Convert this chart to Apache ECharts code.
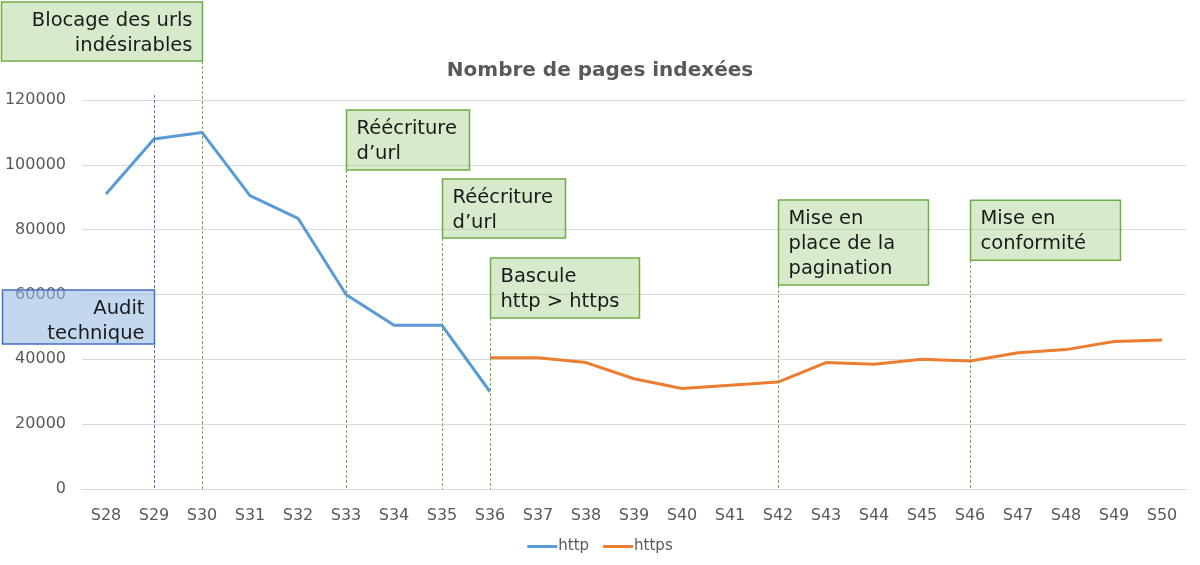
<!DOCTYPE html>
<html><head><meta charset="utf-8">
<script src="https://cdn.jsdelivr.net/npm/echarts@6/dist/echarts.min.js"></script>
<style>html,body{margin:0;padding:0;background:#fff}#c{width:1200px;height:565px}</style>
</head><body><div id="c"></div>
<script>
const weeks = ['S28','S29','S30','S31','S32','S33','S34','S35','S36','S37','S38','S39','S40','S41','S42','S43','S44','S45','S46','S47','S48','S49','S50'];
const httpValues = [91000,108000,110000,90500,83500,60000,50500,50500,30000,null,null,null,null,null,null,null,null,null,null,null,null,null,null];
const httpsValues = [null,null,null,null,null,null,null,null,40500,40500,39000,34000,31000,32000,33000,39000,38500,40000,39500,42000,43000,45500,46000];

const eventWeeks = ['S29','S30','S33','S35','S36','S42','S46'];
const eventTops = [121500,132000,98400,77400,52750,62900,70600];
const eventLabels = ['Audit\ntechnique','Blocage des urls\nindésirables','Réécriture\nd\u2019url','Réécriture\nd\u2019url','Bascule\nhttp > https','Mise en\nplace de la\npagination','Mise en\nconformité'];

// layout (pixel sizes) for annotation boxes
const boxLayout = [
  {side:'left', w:152, h:54, y:290, blue:true},
  {side:'left', w:201, h:59},
  {side:'right', w:123, h:60},
  {side:'right', w:123, h:59},
  {side:'right', w:149, h:60},
  {side:'right', w:150, h:85},
  {side:'right', w:150, h:60}
];

const FONT = '"DejaVu Sans", sans-serif';
const chart = echarts.init(document.getElementById('c'));
chart.setOption({
  animation:false,
  title:{text:'Nombre de pages indexées', left:'center', top:56,
    textStyle:{fontFamily:FONT, fontSize:20, fontWeight:'bold', color:'#595959'}},
  legend:{bottom:6, left:'center', itemWidth:30, itemHeight:3, itemGap:14, icon:'rect',
    textStyle:{fontFamily:FONT, fontSize:15, color:'#595959', padding:[0,0,0,-4]},
    data:['http','https']},
  grid:{left:82, right:14, top:100, bottom:76},
  xAxis:{type:'category', data:weeks, boundaryGap:true,
    axisLine:{lineStyle:{color:'#d9d9d9'}}, axisTick:{show:false},
    axisLabel:{fontFamily:FONT, fontSize:16, color:'#595959', margin:19}},
  yAxis:{type:'value', min:0, max:120000, interval:20000,
    axisLine:{show:false}, axisTick:{show:false},
    splitLine:{lineStyle:{color:'#d9d9d9', width:1}},
    axisLabel:{fontFamily:FONT, fontSize:16, color:'#595959', margin:16, formatter:v => String(v)}},
  series:[
    {name:'http', type:'line', data:httpValues, showSymbol:false, symbol:'none',
      lineStyle:{color:'#5b9bd5', width:3}, itemStyle:{color:'#5b9bd5'}},
    {name:'https', type:'line', data:httpsValues, showSymbol:false, symbol:'none',
      lineStyle:{color:'#ed7d31', width:3}, itemStyle:{color:'#ed7d31'}}
  ]
});

const graphics = [];
const bottomPx = chart.convertToPixel({gridIndex:0}, [0, 0])[1];
eventWeeks.forEach((wk, i) => {
  const p = chart.convertToPixel({gridIndex:0}, [wk, eventTops[i]]);
  const lx = Math.round(p[0]) + 0.5, ly = p[1];
  const L = boxLayout[i];
  const lineColor = L.blue ? '#4472c4' : '#70ad47';
  graphics.push({type:'line', shape:{x1:lx, y1:ly, x2:lx, y2:bottomPx}, z:5,
    style:{stroke:lineColor, lineWidth:1, lineDash:[3,2]}});
  const bx = L.side === 'right' ? lx : lx - L.w;
  const by = L.y !== undefined ? L.y : ly - L.h;
  graphics.push({type:'rect', shape:{x:bx, y:by, width:L.w, height:L.h}, z:10,
    style:{fill: L.blue ? 'rgba(155,190,228,0.6)' : 'rgba(169,208,142,0.45)',
      stroke: L.blue ? '#4472c4' : '#70ad47', lineWidth:1.5}});
  graphics.push({type:'text', z:11,
    style:{text:eventLabels[i], x: L.side === 'right' ? bx + 10 : bx + L.w - 10, y: by + 6,
      textAlign: L.side === 'right' ? 'left' : 'right', textVerticalAlign:'top',
      font:'19.5px ' + FONT, lineHeight:25, fill:'#1a1a1a'}});
});
chart.setOption({graphic:graphics});
</script></body></html>
